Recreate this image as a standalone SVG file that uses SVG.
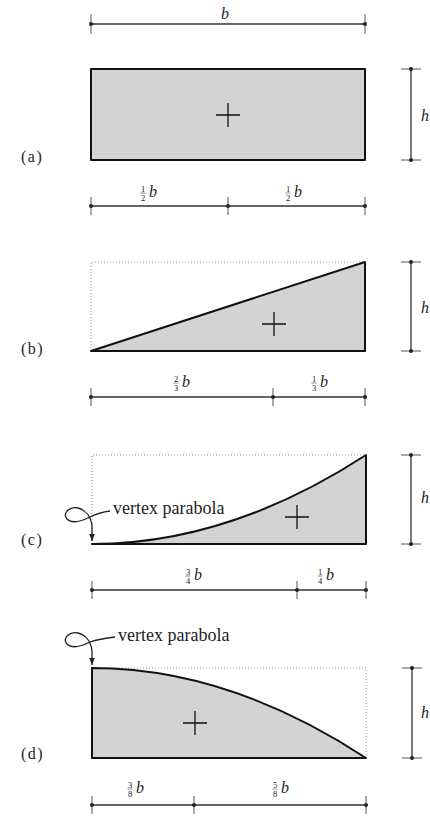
<svg xmlns="http://www.w3.org/2000/svg" width="430" height="816" viewBox="0 0 430 816">
<defs>
<marker id="arr" viewBox="0 0 10 10" refX="10" refY="5" markerUnits="userSpaceOnUse" markerWidth="7" markerHeight="7" orient="auto"><path d="M0,1 L10,5 L0,9 z" fill="#222"/></marker>
<circle id="dot" r="2" fill="#222"/>
</defs>
<style>
.shape{fill:#d3d3d3;stroke:#111;stroke-width:2;stroke-linejoin:round}
.dotted{fill:none;stroke:#999;stroke-width:1;stroke-dasharray:1 2}
.dim{stroke:#333;stroke-width:1.3;fill:none}
.tick{stroke:#555;stroke-width:1;fill:none}
.cross{stroke:#111;stroke-width:1.3;fill:none}
.lbl{font-family:"Liberation Serif",serif;font-size:16px;letter-spacing:1.5px;fill:#222}
.var{font-family:"Liberation Serif",serif;font-style:italic;font-size:16px;fill:#222}
.num{font-family:"Liberation Serif",serif;font-size:8.5px;fill:#222;text-anchor:middle}
.bar{stroke:#444;stroke-width:0.6}
.note{font-family:"Liberation Serif",serif;font-size:18px;fill:#222}
.ann{fill:none;stroke:#222;stroke-width:1.3}
</style>

<g id="panel-a">
<rect class="shape" x="91" y="69" width="274" height="91"/>
<path class="cross" d="M216,115H240M228,103V127"/>
<text class="lbl" x="21" y="162">(a)</text>
</g>

<g id="panel-b">
<path class="dotted" d="M91,351V262H365"/>
<path class="shape" d="M91,351L365,262V351Z"/>
<path class="cross" d="M262,324H286M274,312V336"/>
<text class="lbl" x="21" y="354">(b)</text>
</g>

<g id="panel-c">
<path class="dotted" d="M92,544V455H366"/>
<path class="shape" d="M92,544Q229,544 366,455V544Z"/>
<path class="cross" d="M285,517H309M297,505V529"/>
<text class="lbl" x="21" y="545">(c)</text>
</g>

<g id="panel-d">
<path class="dotted" d="M92,668H366V758"/>
<path class="shape" d="M92,758V668Q229,668 366,758Z"/>
<path class="cross" d="M183,723H207M195,711V735"/>
<text class="lbl" x="21" y="759">(d)</text>
</g>

<g id="connectors">
<!-- top b -->
<path class="dim" d="M91,24H365"/>
<path class="tick" d="M91,14V34M365,14V34"/>
<use href="#dot" x="91" y="24"/><use href="#dot" x="365" y="24"/>
<text class="var" x="225" y="19" text-anchor="middle">b</text>

<!-- (a) bottom -->
<path class="dim" d="M91,206H365"/>
<path class="tick" d="M91,197V215M228,197V215M365,197V215"/>
<use href="#dot" x="91" y="206"/><use href="#dot" x="228" y="206"/><use href="#dot" x="365" y="206"/>
<text class="num" x="143" y="191.5">1</text><path class="bar" d="M140.5,193H145.5"/><text class="num" x="143" y="200.5">2</text>
<text class="var" x="149" y="197">b</text>
<text class="num" x="288" y="191.5">1</text><path class="bar" d="M285.5,193H290.5"/><text class="num" x="288" y="200.5">2</text>
<text class="var" x="294" y="197">b</text>
<!-- (a) h -->
<path class="dim" d="M411,69V160"/>
<path class="tick" d="M401,69H421M401,160H421"/>
<use href="#dot" x="411" y="69"/><use href="#dot" x="411" y="160"/>
<text class="var" x="421" y="121">h</text>

<!-- (b) bottom -->
<path class="dim" d="M91,397H365"/>
<path class="tick" d="M91,388V406M273,388V406M365,388V406"/>
<use href="#dot" x="91" y="397"/><use href="#dot" x="273" y="397"/><use href="#dot" x="365" y="397"/>
<text class="num" x="176" y="381.5">2</text><path class="bar" d="M173.5,383H178.5"/><text class="num" x="176" y="390.5">3</text>
<text class="var" x="182" y="387">b</text>
<text class="num" x="314" y="381.5">1</text><path class="bar" d="M311.5,383H316.5"/><text class="num" x="314" y="390.5">3</text>
<text class="var" x="320" y="387">b</text>
<path class="dim" d="M411,262V351"/>
<path class="tick" d="M401,262H421M401,351H421"/>
<use href="#dot" x="411" y="262"/><use href="#dot" x="411" y="351"/>
<text class="var" x="421" y="313">h</text>

<!-- (c) bottom -->
<path class="dim" d="M92,590H366"/>
<path class="tick" d="M92,581V599M297,581V599M366,581V599"/>
<use href="#dot" x="92" y="590"/><use href="#dot" x="297" y="590"/><use href="#dot" x="366" y="590"/>
<text class="num" x="188" y="574.5">3</text><path class="bar" d="M185.5,576H190.5"/><text class="num" x="188" y="583.5">4</text>
<text class="var" x="194" y="580">b</text>
<text class="num" x="320" y="574.5">1</text><path class="bar" d="M317.5,576H322.5"/><text class="num" x="320" y="583.5">4</text>
<text class="var" x="326" y="580">b</text>
<path class="dim" d="M411,455V544"/>
<path class="tick" d="M401,455H421M401,544H421"/>
<use href="#dot" x="411" y="455"/><use href="#dot" x="411" y="544"/>
<text class="var" x="421" y="503">h</text>

<!-- (d) bottom -->
<path class="dim" d="M92,805H366"/>
<path class="tick" d="M92,796V814M194,796V814M366,796V814"/>
<use href="#dot" x="92" y="805"/><use href="#dot" x="194" y="805"/><use href="#dot" x="366" y="805"/>
<text class="num" x="130" y="787.5">3</text><path class="bar" d="M127.5,789H132.5"/><text class="num" x="130" y="796.5">8</text>
<text class="var" x="136" y="793">b</text>
<text class="num" x="275" y="787.5">5</text><path class="bar" d="M272.5,789H277.5"/><text class="num" x="275" y="796.5">8</text>
<text class="var" x="281" y="793">b</text>
<path class="dim" d="M412,668V758"/>
<path class="tick" d="M402,668H422M402,758H422"/>
<use href="#dot" x="412" y="668"/><use href="#dot" x="412" y="758"/>
<text class="var" x="421" y="718">h</text>

<!-- annotations -->
<path class="ann" d="M110,511C102,512 96,514 90,517C82,521 72,524 67,519C62,513 70,506 78,508C86,510 91,517 92,526L92,541" marker-end="url(#arr)"/>
<text class="note" x="113" y="514">vertex parabola</text>
<path class="ann" d="M115,637C107,638 96,640 90,642C82,646 72,649 67,644C62,638 70,631 78,633C86,635 91,642 92,651L92,665" marker-end="url(#arr)"/>
<text class="note" x="118" y="641">vertex parabola</text>
</g>
</svg>
